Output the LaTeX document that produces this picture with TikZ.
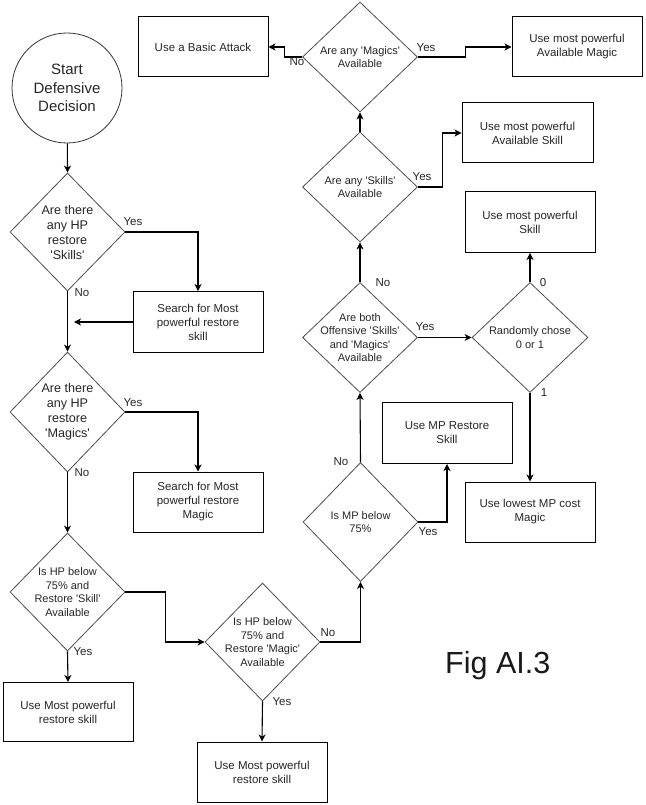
\documentclass[tikz,border=0pt]{standalone}
\usepackage{fontspec}
\setmainfont{Liberation Sans}
\usetikzlibrary{shapes.geometric,arrows.meta}
\newcommand{\qs}{\textquotesingle}

\begin{document}
\begin{tikzpicture}[x=1pt,y=-1pt,
  box/.style={draw=black, line width=1pt, minimum width=130pt, minimum height=60pt,
    inner sep=0pt, align=center, font=\fontsize{11.5}{14}\selectfont, text=black!85},
  dia/.style={draw=black!70, line width=0.8pt, shape=diamond, minimum width=115pt,
    minimum height=118pt, inner sep=0pt},
  dtext/.style={align=center, font=\fontsize{11}{13.5}\selectfont, text=black!85},
  dtextbig/.style={align=center, font=\fontsize{12.6}{15}\selectfont, text=black!85},
  lbl/.style={font=\fontsize{11.5}{13}\selectfont, text=black!85, inner sep=0pt},
  conn/.style={line width=1.1pt, -{Stealth[length=7pt,width=7pt,inset=2pt]}}
]
\useasboundingbox (0,0) rectangle (645,805);

% start
\node[draw=black!80, line width=0.8pt, circle, minimum size=110pt, inner sep=0pt,
  align=center, font=\fontsize{15}{18.5}\selectfont, text=black!85]
  (start) at (67,88) {Start\\Defensive\\Decision};

% left column: restore checks
\node[dia] (d1) at (67.5,232) {};
\node[dtextbig] (d1t) at (d1) {Are there\\any HP\\restore\\\qs Skills\qs};
\node[box, minimum height=61pt] (s1) at (198,322) {Search for Most\\powerful restore\\skill};
\node[dia, minimum height=120pt] (d2) at (67.5,412) {};
\node[dtextbig] (d2t) at (d2) {Are there\\any HP\\restore\\\qs Magics\qs};
\node[box] (s2) at (198,502) {Search for Most\\powerful restore\\Magic};
\node[dia] (d3) at (67.5,592) {};
\node[dtext] (d3t) at (d3) {Is HP below\\75\% and\\Restore \qs Skill\qs\\Available};
\node[box, minimum height=59pt] (u1) at (68,712) {Use Most powerful\\restore skill};
\node[dia] (d4) at (262.5,642) {};
\node[dtext] (d4t) at (d4) {Is HP below\\75\% and\\Restore \qs Magic\qs\\Available};
\node[box] (u2) at (262,772) {Use Most powerful\\restore skill};

% right part: offensive choices
\node[dia, minimum height=119pt] (d5) at (360.5,522) {};
\node[dtext] (d5t) at (d5) {Is MP below\\75\%};
\node[box, minimum height=61pt] (mp) at (447,433) {Use MP Restore\\Skill};
\node[dia, minimum height=110pt] (d6) at (360,337.5) {};
\node[dtext] (d6t) at (d6) {Are both\\Offensive \qs Skills\qs\\and \qs Magics\qs\\Available};
\node[dia, minimum width=116pt, minimum height=110pt] (d7) at (530,337.5) {};
\node[dtext] (d7t) at (d7) {Randomly chose\\0 or 1};
\node[box, minimum height=61pt] (ps) at (530,222) {Use most powerful\\Skill};
\node[box] (lm) at (530,512) {Use lowest MP cost\\Magic};
\node[dia, minimum height=110pt] (d8) at (360,187) {};
\node[dtext] (d8t) at (d8) {Are any \qs Skills\qs\\Available};
\node[box, minimum width=131pt] (as) at (527.5,133) {Use most powerful\\Available Skill};
\node[dia, minimum height=110pt] (d9) at (360,57) {};
\node[dtext] (d9t) at (d9) {Are any \qs Magics\qs\\Available};
\node[box] (am) at (577,47) {Use most powerful\\Available Magic};
\node[box] (ba) at (203,47) {Use a Basic Attack};

\node[font=\fontsize{30.5}{34}\selectfont, text=black!90, anchor=base west, inner sep=0pt]
  (fig) at (445,673) {Fig AI.3};

% connectors
\coordinate (j1) at (74,322);
\draw[conn] (start) -- (d1.north);
\draw[conn] (d1.east) -| (s1.north);
\draw[conn] (s1.west) -- (j1);
\draw[conn] (d1.south) -- (d2.north);
\draw[conn] (d2.east) -| (s2.north);
\draw[conn] (d2.south) -- (d3.north);
\draw[conn] (d3.south) -- (u1.north);
\draw[conn] (d3.east) -- ++(40,0) |- (d4.west);
\draw[conn] (d4.south) -- (u2.north);
\draw[conn] (d4.east) -| (d5.south);
\draw[conn] (d5.east) -| (mp.south);
\draw[conn] (d5.north) -- (d6.south);
\draw[conn] (d6.east) -- (d7.west);
\draw[conn] (d7.north) -- (ps.south);
\draw[conn] (d7.south) -- (lm.north);
\draw[conn] (d6.north) -- (d8.south);
\draw[conn] (d8.east) -- ++(25,0) |- (as.west);
\draw[conn] (d8.north) -- (d9.south);
\draw[conn] (d9.east) -- ++(47.5,0) |- (am.west);
\draw[conn] (d9.west) -- ++(-17.5,0) |- (ba.east);

% branch labels
\node[lbl] (l1y) at (133,222) {Yes};
\node[lbl] (l1n) at (82,293) {No};
\node[lbl] (l2y) at (133,403) {Yes};
\node[lbl] (l2n) at (82,473) {No};
\node[lbl] (l3y) at (83,652) {Yes};
\node[lbl] (l4y) at (282,702) {Yes};
\node[lbl] (l4n) at (328,633) {No};
\node[lbl] (l5y) at (428,532) {Yes};
\node[lbl] (l5n) at (341,462) {No};
\node[lbl] (l6y) at (425,327) {Yes};
\node[lbl] (l6n) at (383,283) {No};
\node[lbl] (l70) at (543,283) {0};
\node[lbl] (l71) at (544,393) {1};
\node[lbl] (l8y) at (422,177) {Yes};
\node[lbl] (l9y) at (426,48) {Yes};
\node[lbl] (l9n) at (297,62) {No};
\end{tikzpicture}
\end{document}
